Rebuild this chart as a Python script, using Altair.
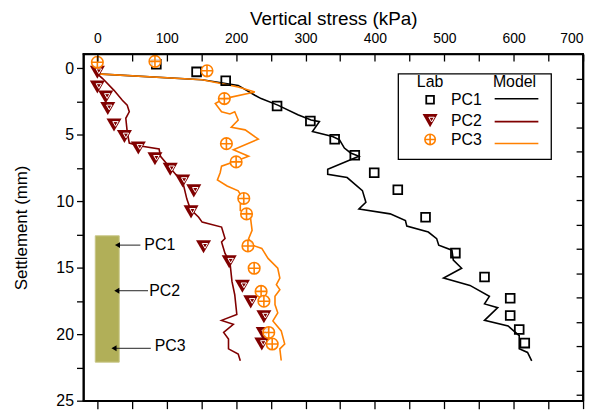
import altair as alt
import pandas as pd

FONT = "Liberation Sans"

# ---------------- data ----------------
pc1_lab_x = [85, 143, 185, 259, 307, 342, 371, 399, 433, 473, 516, 558, 595, 595, 608, 616]
pc1_lab_y = [-0.3, 0.27, 0.94, 2.83, 3.96, 5.33, 6.54, 7.85, 9.14, 11.2, 13.9, 15.7, 17.3, 18.6, 19.65, 20.67]

pc2_lab_x = [0, 0, 12, 15, 24, 39, 59, 83, 105, 123, 139, 135, 153, 190, 209, 221, 240, 239, 237]
pc2_lab_y = [0.3, 1.41, 2.16, 3.02, 4.26, 5.13, 5.99, 6.81, 7.6, 8.48, 9.22, 10.8, 13.43, 14.55, 16.4, 17.57, 18.68, 19.95, 20.74]

pc3_lab_x = [0, 83, 158, 183, 186, 200, 211, 215, 217, 226, 236, 240, 247, 252]
pc3_lab_y = [-0.45, -0.52, 0.19, 2.28, 5.67, 7.04, 9.79, 10.95, 13.36, 15.04, 16.78, 17.52, 19.87, 20.74]

pc1_mod_x = [0, 151, 203, 227, 236, 260, 289, 308, 320, 310, 339, 349, 356, 365, 377, 332, 332, 360, 382, 387,
             377, 422, 444, 446, 477, 489, 492, 511, 513, 525, 499, 537, 565, 558, 577, 558, 592, 608, 608, 620, 626]
pc1_mod_y = [0.42, 0.86, 1.29, 2.03, 2.28, 2.77, 3.5, 3.89, 4.01, 4.76, 5.13, 5.38, 6.0, 6.37, 6.61, 7.6, 7.98, 8.22, 9.2, 10.08,
             10.58, 10.95, 11.45, 11.87, 12.32, 12.81, 13.3, 13.68, 14.42, 15.04, 15.78, 16.33, 17.15, 17.72, 18.0, 18.96, 19.38, 20.1, 21.1, 21.37, 22.0]

pc2_mod_x = [0, 8, 24, 36, 43, 46, 41, 43, 46, 60, 89, 91, 103, 113, 122, 125, 129, 134, 146,
             151, 179, 184, 179, 184, 191, 194, 198, 201, 179, 196, 182, 189, 189, 203, 206]
pc2_mod_y = [0.42, 0.79, 1.66, 2.4, 2.77, 3.27, 3.76, 4.76, 5.62, 5.82, 6.07, 6.62, 7.36, 7.98, 8.35, 8.97, 9.84, 10.58, 11.2,
             11.57, 11.94, 12.81, 13.06, 13.93, 14.55, 16.03, 17.03, 18.51, 18.96, 19.26, 19.87, 20.37, 21.1, 21.49, 22.0]

pc3_mod_x = [0, 151, 203, 227, 183, 170, 179, 191, 198, 203, 193, 213, 232, 196, 218, 199, 179, 177, 173, 187, 203, 213,
             206, 206, 220, 223, 218, 223, 237, 246, 260, 263, 258, 263, 256, 256, 260, 253, 265, 270, 263, 265]
pc3_mod_y = [0.42, 0.86, 1.41, 1.78, 2.28, 2.65, 3.27, 3.44, 3.27, 3.89, 4.43, 4.63, 5.33, 6.12, 6.62, 6.99, 7.36, 7.85, 8.4, 8.85, 9.22, 10.08,
             10.2, 10.7, 10.95, 12.19, 12.81, 13.3, 13.55, 14.3, 15.04, 15.78, 16.28, 16.65, 17.15, 17.77, 18.39, 19.0, 19.75, 20.74, 21.1, 21.98]

# column schematic
col_x = [-3]
col_x2 = [31.5]
col_y = [12.6]
col_y2 = [22.1]
ann_text = ["PC1", "PC2", "PC3"]
ann_tx = [90, 97, 105]
ann_ty = [13.3, 16.73, 20.87]
arr_x0 = [62, 73, 77]
arr_x1 = [29, 28, 24]
arr_y = [13.3, 16.73, 21.06]

# axis ticks / limits
X_MIN, X_MAX = -20, 700
Y_MIN, Y_MAX = -1.07, 25
x_ticks = [0, 50, 100, 150, 200, 250, 300, 350, 400, 450, 500, 550, 600, 650, 700]
x_labels = [0, 100, 200, 300, 400, 500, 600, 700]
y_ticks = [0, 2.5, 5, 7.5, 10, 12.5, 15, 17.5, 20, 22.5, 25]
y_right_ticks = [0.77, 2.6, 4.43, 6.26, 8.09, 9.92, 11.75, 13.58, 15.41, 17.24, 19.07, 20.9, 22.73, 24.56]

COL1, COL2, COL3 = "#000000", "#800000", "#FF8000"

W, H = 503, 349
xs = alt.Scale(domain=[X_MIN, X_MAX], nice=False, zero=False)
ys = alt.Scale(domain=[Y_MIN, Y_MAX], nice=False, zero=False, reverse=True)

CIRCLE_PLUS = "M-1,0A1,1,0,1,0,1,0A1,1,0,1,0,-1,0ZM-1,0L1,0M0,-1L0,1"

ax_top = alt.Axis(orient="top", values=x_labels, title="Vertical stress (kPa)", titleFont=FONT,
                  titleFontSize=19, titleFontWeight="normal", titleColor="black", titlePadding=3,
                  labelFont=FONT, labelFontSize=14, labelColor="black", labelPadding=9,
                  ticks=False, domain=True, domainColor="black", domainWidth=1.6, grid=False, zindex=2)
ax_left = alt.Axis(orient="left", values=y_ticks,
                   labelExpr="datum.value % 5 === 0 ? datum.label : ''",
                   title="Settlement (mm)", titleFont=FONT, titleFontSize=17, titleFontWeight="normal",
                   titleColor="black", titlePadding=26,
                   labelFont=FONT, labelFontSize=16, labelColor="black", labelPadding=3,
                   tickSize=7, tickWidth=1.3, tickColor="black",
                   domain=True, domainColor="black", domainWidth=1.6, grid=False, zindex=2)
ax_bottom = alt.Axis(orient="bottom", values=x_ticks, title=None, labels=False,
                     tickSize=8, tickWidth=1.3, tickColor="black",
                     domain=True, domainColor="black", domainWidth=1.6, grid=False, zindex=2)
ax_right = alt.Axis(orient="right", title=None, labels=False, ticks=False,
                    domain=True, domainColor="black", domainWidth=1.6, grid=False, zindex=2)
ax_top_in = alt.Axis(orient="top", values=x_ticks, title=None, labels=False, offset=-7,
                     tickSize=7, tickWidth=1.3, tickColor="black", domain=False, grid=False, zindex=2)
ax_right_in = alt.Axis(orient="right", values=y_right_ticks, title=None, labels=False, offset=-7,
                       tickSize=7, tickWidth=1.3, tickColor="black", domain=False, grid=False, zindex=2)


def series_df(xv, yv):
    return pd.DataFrame({"x": xv, "y": yv, "i": list(range(len(xv)))})


def X(field="x", axis=None):
    return alt.X(f"{field}:Q", scale=xs, axis=axis)


def Y(field="y", axis=None):
    return alt.Y(f"{field}:Q", scale=ys, axis=axis)


layers = []

# lines (model)
for xv, yv, c in [(pc1_mod_x, pc1_mod_y, COL1), (pc2_mod_x, pc2_mod_y, COL2), (pc3_mod_x, pc3_mod_y, COL3)]:
    layers.append(alt.Chart(series_df(xv, yv)).mark_line(color=c, strokeWidth=1.6).encode(
        x=X(), y=Y(), order="i:Q"))

# PC1 lab squares (main axes)
layers.append(alt.Chart(series_df(pc1_lab_x, pc1_lab_y)).mark_point(
    shape="square", size=78, filled=False, color=COL1, strokeWidth=1.8, opacity=1).encode(
    x=X(axis=ax_top), y=Y(axis=ax_left)))

# PC2 triangles (bottom / right frame axes)
pc2_df = series_df(pc2_lab_x, pc2_lab_y)
layers.append(alt.Chart(pc2_df).mark_point(
    shape="triangle-down", size=230, filled=True, color=COL2, opacity=1).encode(
    x=X(axis=ax_bottom), y=Y(axis=ax_right)))
layers.append(alt.Chart(pc2_df).mark_point(
    shape="triangle-down", size=30, filled=False, color="white", strokeWidth=1, opacity=1,
    xOffset=1.5, yOffset=-1).encode(x=X(), y=Y()))

# PC3 circles with cross (inward tick axes)
layers.append(alt.Chart(series_df(pc3_lab_x, pc3_lab_y)).mark_point(
    shape=CIRCLE_PLUS, size=135, fill="white", fillOpacity=0.85, stroke=COL3, strokeWidth=1.6,
    opacity=1).encode(x=X(axis=ax_top_in), y=Y(axis=ax_right_in)))

# column schematic
layers.append(alt.Chart(pd.DataFrame({"x": col_x, "x2": col_x2, "y": col_y, "y2": col_y2})).mark_rect(
    fill="#B1AF58", stroke="#C8C685", strokeWidth=1).encode(x=X(), x2="x2:Q", y=Y(), y2="y2:Q"))

ann_df = pd.DataFrame({"t": ann_text, "tx": ann_tx, "ty": ann_ty, "x0": arr_x0, "x1": arr_x1, "ay": arr_y})
layers.append(alt.Chart(ann_df).mark_rule(color="#222222", strokeWidth=1).encode(
    x=X("x0"), x2="x1:Q", y=Y("ay")))
layers.append(alt.Chart(ann_df).mark_point(shape="triangle-left", size=35, filled=True, color="black",
                                            opacity=1).encode(x=X("x1"), y=Y("ay")))
layers.append(alt.Chart(ann_df).mark_text(font=FONT, fontSize=16, color="black", align="center",
                                           baseline="middle").encode(x=X("tx"), y=Y("ty"), text="t:N"))

# legend (drawn by hand)
one = pd.DataFrame({"a": [0]})
layers.append(alt.Chart(one).mark_rect(fill="white", stroke="black", strokeWidth=1.3).encode(
    x=alt.value(317), x2=alt.value(471), y=alt.value(20), y2=alt.value(106)))
for txt, cx in [("Lab", 349), ("Model", 434)]:
    layers.append(alt.Chart(one).mark_text(font=FONT, fontSize=16, color="black", align="center",
                                           baseline="middle").encode(
        x=alt.value(cx), y=alt.value(28), text=alt.value(txt)))
leg_rows = [("PC1", COL1, 46, 45), ("PC2", COL2, 67, 68), ("PC3", COL3, 87, 90)]
for name, c, ry, ly in leg_rows:
    layers.append(alt.Chart(one).mark_text(font=FONT, fontSize=16, color="black", align="left",
                                           baseline="middle").encode(
        x=alt.value(370), y=alt.value(ry), text=alt.value(name)))
    layers.append(alt.Chart(one).mark_rule(color=c, strokeWidth=1.6).encode(
        x=alt.value(414), x2=alt.value(458), y=alt.value(ly)))
layers.append(alt.Chart(one).mark_point(shape="square", size=60, filled=False, color=COL1, strokeWidth=1.8,
                                        opacity=1).encode(x=alt.value(349), y=alt.value(46)))
layers.append(alt.Chart(one).mark_point(shape="triangle-down", size=230, filled=True, color=COL2,
                                        opacity=1).encode(x=alt.value(349), y=alt.value(67)))
layers.append(alt.Chart(one).mark_point(shape="triangle-down", size=30, filled=False, color="white",
                                        strokeWidth=1, opacity=1, xOffset=1.5, yOffset=-1).encode(
    x=alt.value(349), y=alt.value(67)))
layers.append(alt.Chart(one).mark_point(shape=CIRCLE_PLUS, size=110, fill="white", stroke=COL3,
                                        strokeWidth=1.6, opacity=1).encode(x=alt.value(349), y=alt.value(86)))

# frame drawn last, as thin filled bands along the plot edges
for x0, x1, y0, y1 in [(-0.8, W + 0.8, -0.8, 0.8), (-0.8, W + 0.8, H - 0.8, H + 0.8),
                       (-0.8, 0.8, -0.8, H + 0.8), (W - 0.8, W + 0.8, -0.8, H + 0.8)]:
    layers.append(alt.Chart(one).mark_rect(fill="black", opacity=1).encode(
        x=alt.value(x0), x2=alt.value(x1), y=alt.value(y0), y2=alt.value(y1)))

chart = alt.layer(*layers).resolve_axis(x="independent", y="independent").properties(
    width=W, height=H,
    background="white",
    autosize=alt.AutoSizeParams(type="none"),
    padding={"left": 76, "top": 45, "right": 8, "bottom": 8},
).configure_view(stroke="black", strokeWidth=1.6)

chart.save("out.html", embed_options={"renderer": "svg", "actions": False})
